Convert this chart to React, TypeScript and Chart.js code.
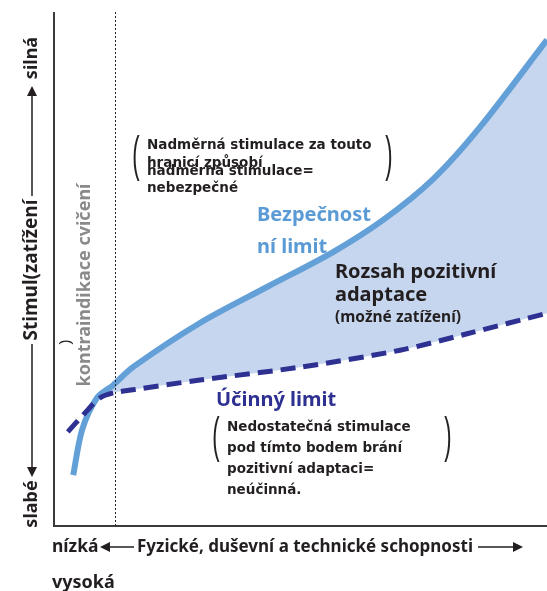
import { useEffect, useRef } from "react";
import { Chart, registerables } from "chart.js";

Chart.register(...registerables);

// ---- data (x: ability 0..100, y: stimulus 0..100) ----
const safetyX = [3.9, 5.7, 8.7, 12.0, 16.0, 29.6, 43.2, 56.6, 66.7, 76.9, 86.4, 100];
const safetyY = [9.9, 18.7, 24.9, 27.4, 30.9, 39.5, 46.5, 53.3, 59.5, 67.5, 77.6, 94.6];
const effectiveX = [2.8, 5.9, 9.3, 12.0, 16.0, 29.6, 49.9, 70.2, 83.8, 100];
const effectiveY = [18.3, 21.6, 24.9, 25.9, 26.5, 28.4, 30.9, 34.2, 37.4, 41.4];
const crossingX = 9.3;
const crossingY = 24.9;
const contraindicationX = 12.4;

// ---- texts ----
const yAxisTitle = "Stimul(zatížení";
const yAxisHigh = "silná";
const yAxisLow = "slabé";
const xAxisTitle = "Fyzické, duševní a technické schopnosti";
const xAxisLow = "nízká";
const xAxisHigh = "vysoká";
const contraLabel = "kontraindikace cvičení";
const safetyLabel = ["Bezpečnost", "ní limit"];
const effectiveLabel = "Účinný limit";
const rangeLabel = ["Rozsah pozitivní", "adaptace"];
const rangeSub = "(možné zatížení)";
const overNote = ["Nadměrná stimulace za touto", "hranicí způsobí", "nadměrná stimulace=", "nebezpečné"];
const underNote = ["Nedostatečná stimulace", "pod tímto bodem brání", "pozitivní adaptaci=", "neúčinná."];

const toPts = (xs: number[], ys: number[]) => xs.map((x, i) => ({ x, y: ys[i] }));

const NOTO = '"Noto Sans", sans-serif';
const DEJA = '"DejaVu Sans", sans-serif';
const BLACK = "#231f20";

function text(ctx: CanvasRenderingContext2D, s: string, x: number, y: number, font: string, color: string, align: CanvasTextAlign = "left") {
  ctx.font = font;
  ctx.fillStyle = color;
  ctx.textAlign = align;
  ctx.textBaseline = "middle";
  ctx.fillText(s, x, y);
}

function vtext(ctx: CanvasRenderingContext2D, s: string, cx: number, cy: number, font: string, color: string) {
  ctx.save();
  ctx.translate(cx, cy);
  ctx.rotate(-Math.PI / 2);
  text(ctx, s, 0, 0, font, color, "center");
  ctx.restore();
}

function paren(ctx: CanvasRenderingContext2D, s: string, cx: number, cy: number) {
  ctx.save();
  ctx.translate(cx, cy);
  ctx.scale(1, 2.3);
  text(ctx, s, 0, 0, '22px "Liberation Sans", sans-serif', "#222", "center");
  ctx.restore();
}

function arrowHead(ctx: CanvasRenderingContext2D, tx: number, ty: number, dir: "up" | "down" | "left" | "right") {
  const L = 10, W = 5;
  ctx.beginPath();
  ctx.moveTo(tx, ty);
  if (dir === "up") { ctx.lineTo(tx - W, ty + L); ctx.lineTo(tx + W, ty + L); }
  if (dir === "down") { ctx.lineTo(tx - W, ty - L); ctx.lineTo(tx + W, ty - L); }
  if (dir === "left") { ctx.lineTo(tx + L, ty - W); ctx.lineTo(tx + L, ty + W); }
  if (dir === "right") { ctx.lineTo(tx - L, ty - W); ctx.lineTo(tx - L, ty + W); }
  ctx.closePath();
  ctx.fill();
}

const overlay = {
  id: "overlay",
  afterDraw(chart: any) {
    const { ctx, chartArea: a, scales } = chart;
    const c = ctx as CanvasRenderingContext2D;
    c.save();
    // axes
    c.strokeStyle = "#3a3a3a";
    c.lineWidth = 2;
    c.beginPath();
    c.moveTo(a.left, a.top);
    c.lineTo(a.left, a.bottom);
    c.lineTo(a.right, a.bottom);
    c.stroke();
    // dotted contraindication line
    const dx = Math.round(scales.x.getPixelForValue(contraindicationX)) + 0.5;
    c.setLineDash([2, 2]);
    c.lineWidth = 1;
    c.strokeStyle = "#222";
    c.beginPath();
    c.moveTo(dx, a.top);
    c.lineTo(dx, a.bottom);
    c.stroke();
    c.setLineDash([]);

    // y axis title with arrows
    const ax = 32;
    c.strokeStyle = BLACK;
    c.lineWidth = 1.5;
    vtext(c, yAxisHigh, ax, 58, `bold 18px ${NOTO}`, BLACK);
    vtext(c, yAxisTitle, ax, 270, `bold 19px ${NOTO}`, BLACK);
    vtext(c, yAxisLow, ax, 504, `bold 18px ${NOTO}`, BLACK);
    c.beginPath();
    c.moveTo(ax, 196); c.lineTo(ax, 94);
    c.moveTo(ax, 344); c.lineTo(ax, 468);
    c.stroke();
    c.fillStyle = BLACK;
    arrowHead(c, ax, 86, "up");
    arrowHead(c, ax, 477, "down");

    // contraindication label
    vtext(c, contraLabel, 85, 285, `bold 18px ${NOTO}`, "#8a8a8a");
    vtext(c, ")", 66, 342, `15px "Liberation Sans", sans-serif`, "#222");

    // x axis title with arrows
    const by = 547;
    text(c, xAxisLow, 52, by, `bold 17.5px ${NOTO}`, BLACK);
    text(c, xAxisTitle, 137, by, `bold 17px ${NOTO}`, BLACK);
    text(c, xAxisHigh, 52, 583, `bold 18px ${NOTO}`, BLACK);
    c.lineWidth = 1.5;
    c.strokeStyle = BLACK;
    c.beginPath();
    c.moveTo(108, by); c.lineTo(134, by);
    c.moveTo(478, by); c.lineTo(514, by);
    c.stroke();
    c.fillStyle = BLACK;
    arrowHead(c, 100, by, "left");
    arrowHead(c, 523, by, "right");

    // notes
    const nf = `bold 13.5px ${DEJA}`;
    text(c, overNote[0], 147, 145, nf, BLACK);
    text(c, overNote[1], 147, 163, nf, BLACK);
    text(c, overNote[2], 147, 171, nf, BLACK);
    text(c, overNote[3], 147, 188, nf, BLACK);
    paren(c, "(", 136, 157);
    paren(c, ")", 389, 157);

    underNote.forEach((s, i) => text(c, s, 227, 427 + i * 21, nf, BLACK));
    paren(c, "(", 216, 438);
    paren(c, ")", 448, 438);

    // region labels
    text(c, safetyLabel[0], 257, 215, `bold 20px ${NOTO}`, "#5b9bd5");
    text(c, safetyLabel[1], 257, 247, `bold 20px ${NOTO}`, "#5b9bd5");
    text(c, rangeLabel[0], 335, 272, `bold 20px ${NOTO}`, BLACK);
    text(c, rangeLabel[1], 335, 295, `bold 20px ${NOTO}`, BLACK);
    text(c, rangeSub, 335, 318, `bold 15.5px ${NOTO}`, BLACK);
    text(c, effectiveLabel, 216, 400, `bold 20px ${NOTO}`, "#2e3192");
    c.restore();
  },
};

export default function App() {
  const ref = useRef<HTMLCanvasElement>(null);
  useEffect(() => {
    const safety = toPts(safetyX, safetyY);
    const effective = toPts(effectiveX, effectiveY);
    const crossing = { x: crossingX, y: crossingY };
    const fillUpper = [crossing, ...safety.filter((p) => p.x > crossingX)];
    const fillLower = [crossing, ...effective.filter((p) => p.x > crossingX)];
    const chart = new Chart(ref.current!, {
      type: "line",
      data: {
        datasets: [
          {
            label: "Účinný limit",
            data: effective,
            borderColor: "#2e3192",
            borderWidth: 5,
            borderDash: [15, 8],
            fill: false,
            tension: 0.3,
          },
          {
            label: "Bezpečnostní limit",
            data: safety,
            borderColor: "#64a0d8",
            borderWidth: 6,
            fill: false,
            tension: 0.3,
          },
          {
            label: "fill-upper",
            data: fillUpper,
            borderWidth: 0,
            borderColor: "rgba(0,0,0,0)",
            backgroundColor: "#c6d6ee",
            fill: "+1",
            tension: 0.3,
          },
          {
            label: "fill-lower",
            data: fillLower,
            borderWidth: 0,
            borderColor: "rgba(0,0,0,0)",
            fill: false,
            tension: 0.3,
          },
        ],
      },
      options: {
        animation: false,
        responsive: false,
        layout: { padding: { left: 54, top: 12, right: 0, bottom: 65 } },
        elements: { point: { radius: 0, hoverRadius: 0 } },
        scales: {
          x: { type: "linear", min: 0, max: 100, display: false },
          y: { type: "linear", min: 0, max: 100, display: false },
        },
        plugins: { legend: { display: false }, tooltip: { enabled: false } },
      },
      plugins: [overlay],
    } as any);
    return () => chart.destroy();
  }, []);
  return (
    <div style={{ position: "absolute", left: 0, top: 0, width: 547, height: 591, background: "#fff" }}>
      <canvas ref={ref} width={547} height={591} style={{ display: "block", width: 547, height: 591 }} />
    </div>
  );
}
